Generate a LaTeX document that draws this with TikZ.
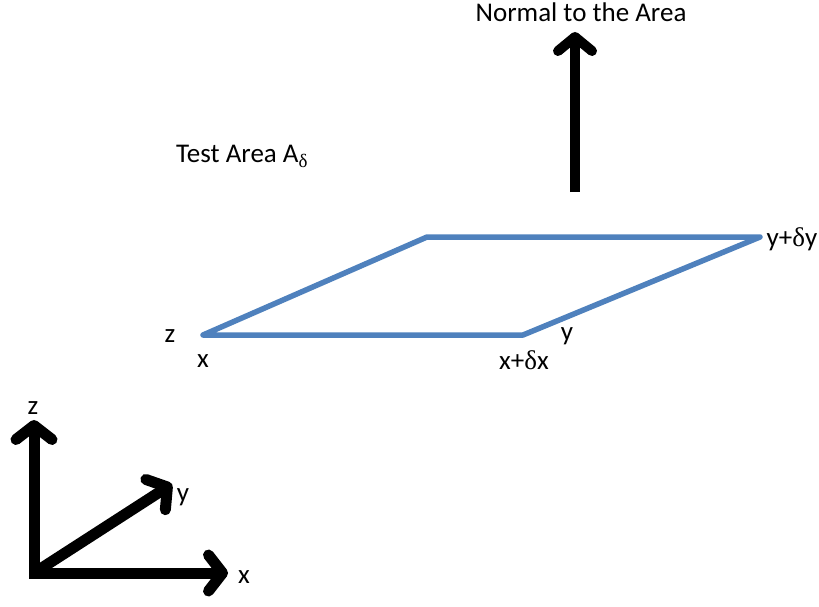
\documentclass[tikz,border=0pt]{standalone}
\usepackage{fontspec}
\setmainfont{Carlito}
\newfontfamily\grk{Liberation Serif}
\usetikzlibrary{arrows.meta}
\definecolor{plateblue}{RGB}{79,129,189}
\newcommand{\dl}{{\grk δ}}
\begin{document}
\begin{tikzpicture}[x=1pt,y=-1pt,
  lbl/.style={font=\fontsize{27}{32}\selectfont, inner sep=0pt},
  plate/.style={draw=plateblue, line width=5.5pt, line join=round},
  bigarrow/.style={line width=10pt, -{Straight Barb[length=14pt,width=34pt,round]}},
  axis/.style={line width=11pt, -{Straight Barb[length=14pt,width=36pt,round]}}]
\useasboundingbox (0,0) rectangle (819,606);
% plate
\coordinate (p1) at (203,335);
\coordinate (p2) at (523,335);
\coordinate (p3) at (760,237);
\coordinate (p4) at (427,237);
\draw[plate] (p1) -- (p2) -- (p3) -- (p4) -- cycle;
% normal
\coordinate (n0) at (575,192);
\coordinate (n1) at (575,32);
\draw[bigarrow] (n0) -- (n1);
\node[lbl] (normal) at (581,12) {Normal to the Area};
\node[lbl, anchor=west] (test) at (176,156) {Test Area A\raisebox{-5pt}{\fontsize{19}{22}\selectfont\dl}};
% corner labels
\node[lbl] (lz) at (170,336) {z};
\node[lbl] (lx) at (203,361) {x};
\node[lbl] (lxd) at (524,360) {x+\dl x};
\node[lbl] (ly) at (567,336) {y};
\node[lbl] (lyd) at (792,239) {y+\dl y};
% axes
\coordinate (o) at (34,573);
\coordinate (az) at (34,420);
\coordinate (ax) at (228,573);
\coordinate (ay) at (172,484);
\draw[axis] ([yshift=5pt]o) -- (az);
\draw[axis] ([xshift=-5pt]o) -- (ax);
\draw[axis] (o) -- (ay);
\node[lbl] (tz) at (33,408) {z};
\node[lbl] (ty) at (183,497) {y};
\node[lbl] (tx) at (244,577) {x};
\end{tikzpicture}
\end{document}
